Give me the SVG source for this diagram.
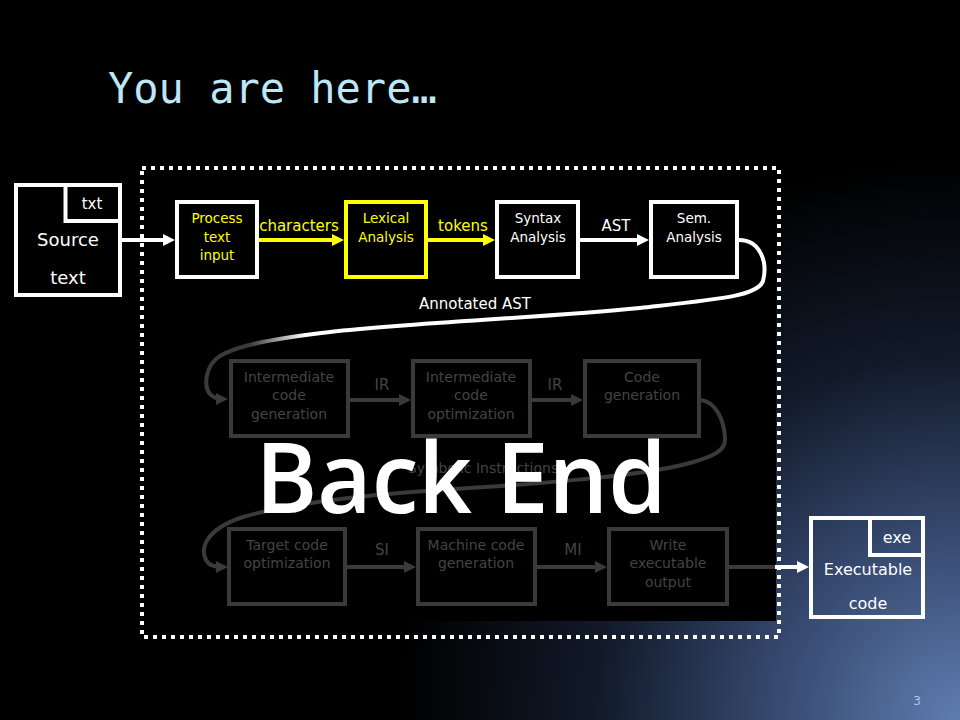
<svg xmlns="http://www.w3.org/2000/svg" width="960" height="720" viewBox="0 0 960 720">
<defs>
<radialGradient id="bg" cx="960" cy="720" r="560" gradientUnits="userSpaceOnUse">
<stop offset="0" stop-color="#5f7db0"/>
<stop offset="0.3" stop-color="#3a4e76"/>
<stop offset="0.65" stop-color="#121a2a"/>
<stop offset="1" stop-color="#000"/>
</radialGradient>
<linearGradient id="fade" x1="250" y1="0" x2="305" y2="0" gradientUnits="userSpaceOnUse">
<stop offset="0" stop-color="#3a3a3a"/>
<stop offset="1" stop-color="#ffffff"/>
</linearGradient>
<marker id="aw" markerUnits="userSpaceOnUse" markerWidth="12" markerHeight="12" refX="6" refY="6" orient="auto"><path d="M0,0 L12,6 L0,12 z" fill="#fff"/></marker>
<marker id="ay" markerUnits="userSpaceOnUse" markerWidth="12" markerHeight="12" refX="6" refY="6" orient="auto"><path d="M0,0 L12,6 L0,12 z" fill="#ffff00"/></marker>
<marker id="ag" markerUnits="userSpaceOnUse" markerWidth="12" markerHeight="12" refX="6" refY="6" orient="auto"><path d="M0,0 L12,6 L0,12 z" fill="#3a3a3a"/></marker>
</defs>
<style>
text{font-family:"DejaVu Sans","Liberation Sans",sans-serif;text-anchor:middle}
.bw{fill:#000;stroke:#fff;stroke-width:4}
.by{fill:#000;stroke:#ffff00;stroke-width:4}
.bg{fill:#000;stroke:#3a3a3a;stroke-width:4}
.tw{fill:#fff;font-size:13.5px}
.ty{fill:#ffff00;font-size:13.5px}
.tg{fill:#444;font-size:14px}
.lw{fill:#fff;font-size:15px}
.ly{fill:#ffff00;font-size:15px}
.lg{fill:#444;font-size:15px}
.cw{fill:none;stroke:#fff;stroke-width:4}
.cy{fill:none;stroke:#ffff00;stroke-width:4}
.cg{fill:none;stroke:#3a3a3a;stroke-width:4}
</style>
<rect width="960" height="720" fill="url(#bg)"/>
<rect x="0" y="0" width="776" height="621" fill="#000"/>
<text x="108" y="103" style="font-family:'DejaVu Sans Mono','Liberation Mono',monospace;font-size:42px;fill:#bfe6f7;text-anchor:start">You are here…</text>
<rect x="142" y="168" width="637" height="469" fill="none" stroke="#fff" stroke-width="4" stroke-dasharray="4 5"/>
<text x="483" y="473" class="lg" style="font-size:14px">Symbolic Instructions</text>
<g id="connectors">
<path class="cw" d="M122,240 L169,240" marker-end="url(#aw)"/>
<path class="cy" d="M259,240 L338,240" marker-end="url(#ay)"/>
<path class="cy" d="M428,240 L489,240" marker-end="url(#ay)"/>
<path class="cw" d="M580,240 L643,240" marker-end="url(#aw)"/>
<path d="M739,240 C760,240 768,262 763,281 C758,296 720,299 640,308 C540,318 420,322 330,332 C280,338 240,344 220,356 C204,366 204,388 210,394 C214,398 217,399 222,399" fill="none" stroke="url(#fade)" stroke-width="4" marker-end="url(#ag)"/>
<path class="cg" d="M350,400 L405,400" marker-end="url(#ag)"/>
<path class="cg" d="M532,400 L577,400" marker-end="url(#ag)"/>
<path class="cg" d="M701,400 C716,402 724,420 725,438 C726,450 715,456 690,463 C640,477 520,485 440,490 C360,495 280,505 240,518 C206,530 200,548 206,560 C209,566 215,567 222,567" marker-end="url(#ag)"/>
<path class="cg" d="M347,567 L410,567" marker-end="url(#ag)"/>
<path class="cg" d="M537,567 L601,567" marker-end="url(#ag)"/>
<path class="cg" d="M729,567 L776,567"/>
<path class="cw" d="M775,567 L803,567" marker-end="url(#aw)"/>
<text x="299" y="231" class="ly">characters</text>
<text x="463" y="231" class="ly">tokens</text>
<text x="616" y="231" class="lw">AST</text>
<text x="475" y="309" class="lw">Annotated AST</text>
<text x="382" y="390" class="lg">IR</text>
<text x="555" y="390" class="lg">IR</text>
<text x="382" y="555" class="lg">SI</text>
<text x="573" y="555" class="lg">MI</text>
</g>
<g id="source">
<rect x="16" y="185" width="104" height="110" class="bw"/>
<rect x="65.5" y="185" width="54.5" height="36" class="bw"/>
<text x="92" y="209" style="fill:#fff;font-size:15px">txt</text>
<text x="68" y="246" style="fill:#fff;font-size:18px">Source</text>
<text x="68" y="284" style="fill:#fff;font-size:18px">text</text>
</g>
<g id="process">
<rect x="177" y="202" width="80" height="75" class="bw"/>
<text x="217" y="223" class="ty">Process</text>
<text x="217" y="242" class="ty">text</text>
<text x="217" y="260" class="ty">input</text>
</g>
<g id="lexical">
<rect x="346" y="202" width="80" height="75" class="by"/>
<text x="386" y="223" class="ty">Lexical</text>
<text x="386" y="242" class="ty">Analysis</text>
</g>
<g id="syntax">
<rect x="497" y="202" width="81" height="75" class="bw"/>
<text x="538" y="223" class="tw">Syntax</text>
<text x="538" y="242" class="tw">Analysis</text>
</g>
<g id="semantic">
<rect x="651" y="202" width="86" height="75" class="bw"/>
<text x="694" y="223" class="tw">Sem.</text>
<text x="694" y="242" class="tw">Analysis</text>
</g>
<g id="icgen">
<rect x="231" y="361" width="117" height="75" class="bg"/>
<text x="289" y="382" class="tg">Intermediate</text>
<text x="289" y="400" class="tg">code</text>
<text x="289" y="419" class="tg">generation</text>
</g>
<g id="icopt">
<rect x="413" y="361" width="117" height="75" class="bg"/>
<text x="471" y="382" class="tg">Intermediate</text>
<text x="471" y="400" class="tg">code</text>
<text x="471" y="419" class="tg">optimization</text>
</g>
<g id="codegen">
<rect x="585" y="361" width="114" height="75" class="bg"/>
<text x="642" y="382" class="tg">Code</text>
<text x="642" y="400" class="tg">generation</text>
</g>
<g id="tcopt">
<rect x="229" y="529" width="116" height="75" class="bg"/>
<text x="287" y="550" class="tg">Target code</text>
<text x="287" y="568" class="tg">optimization</text>
</g>
<g id="mcgen">
<rect x="418" y="529" width="117" height="75" class="bg"/>
<text x="476" y="550" class="tg">Machine code</text>
<text x="476" y="568" class="tg">generation</text>
</g>
<g id="write">
<rect x="609" y="529" width="118" height="75" class="bg"/>
<text x="668" y="550" class="tg">Write</text>
<text x="668" y="568" class="tg">executable</text>
<text x="668" y="587" class="tg">output</text>
</g>
<g id="executable">
<rect x="811" y="518" width="112" height="99" fill="none" stroke="#fff" stroke-width="4"/>
<rect x="870" y="518" width="53" height="37" fill="none" stroke="#fff" stroke-width="4"/>
<text x="897" y="543" style="fill:#fff;font-size:16px">exe</text>
<text x="868" y="575" style="fill:#fff;font-size:16px">Executable</text>
<text x="868" y="609" style="fill:#fff;font-size:16px">code</text>
</g>
<text x="461" y="513" textLength="411" lengthAdjust="spacingAndGlyphs" style="font-family:'Open Sans','DejaVu Sans',sans-serif;font-weight:600;font-size:98px;fill:#fff">Back End</text>
<text x="917" y="705" style="fill:#a8c8e8;font-size:12px">3</text>
</svg>
